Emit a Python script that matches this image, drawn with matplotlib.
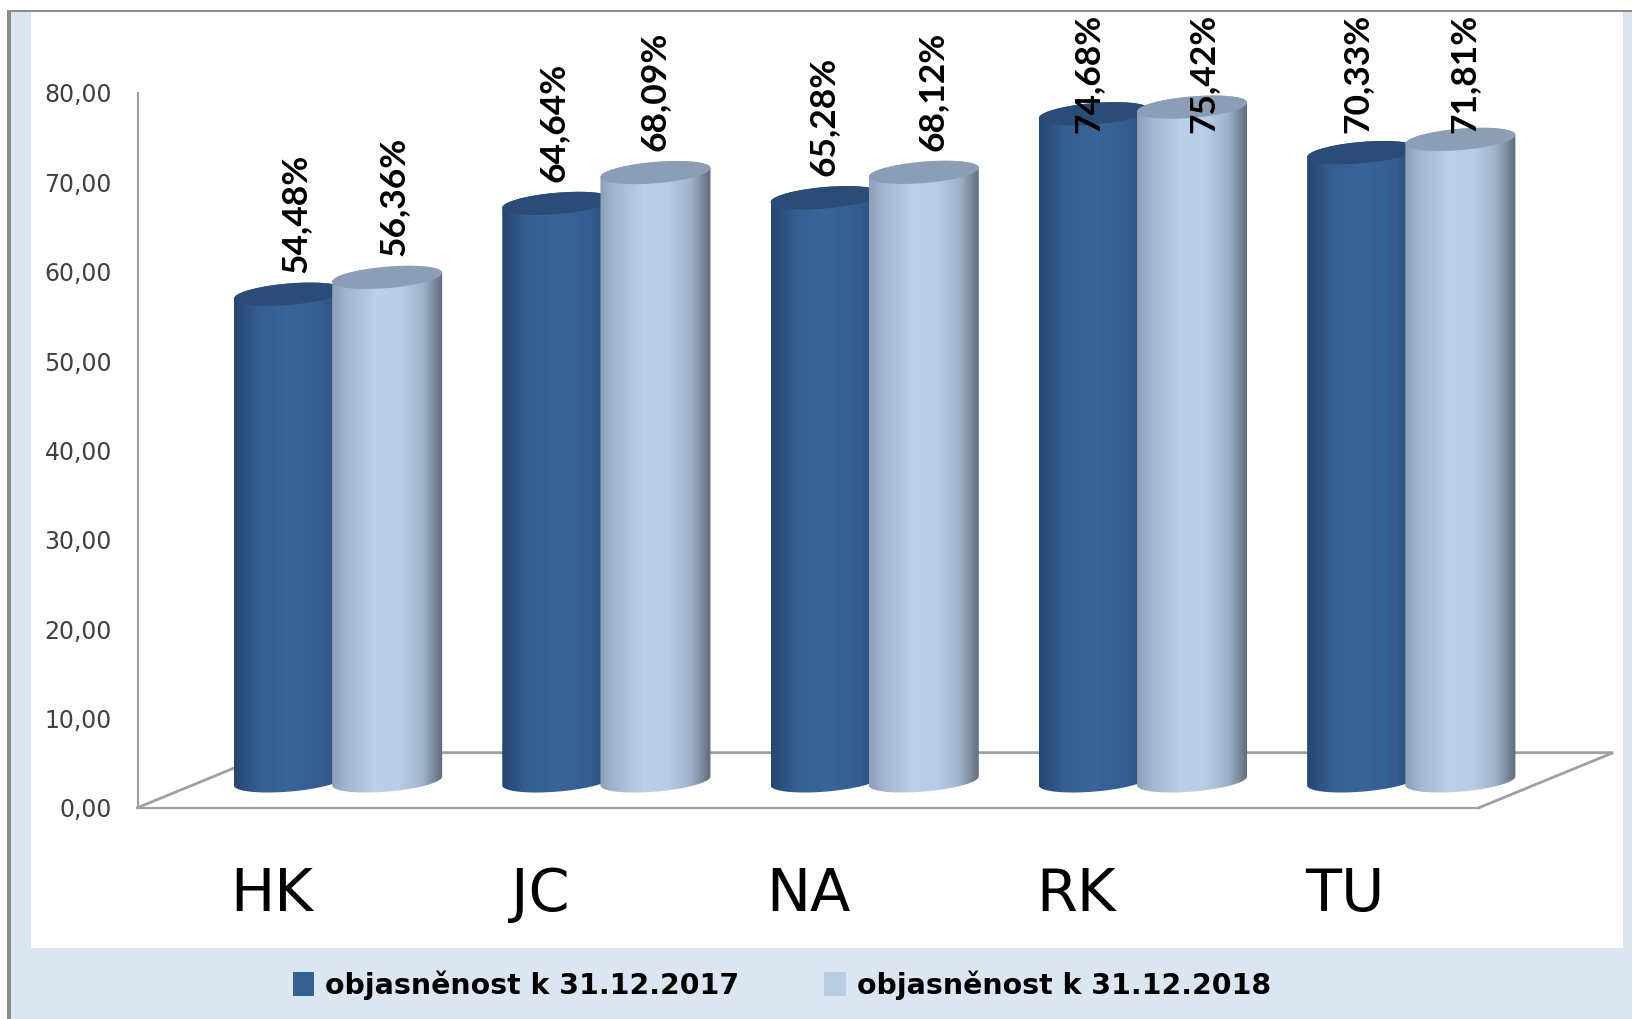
import matplotlib
matplotlib.use('Agg')
import matplotlib.pyplot as plt
from matplotlib.colors import LinearSegmentedColormap
from matplotlib.patches import Rectangle, PathPatch, Patch, Polygon
from matplotlib.path import Path
import numpy as np

categories = ['HK', 'JC', 'NA', 'RK', 'TU']
obj_2017 = [54.48, 64.64, 65.28, 74.68, 70.33]
obj_2018 = [56.36, 68.09, 68.12, 75.42, 71.81]
labels_2017 = ['54,48%', '64,64%', '65,28%', '74,68%', '70,33%']
labels_2018 = ['56,36%', '68,09%', '68,12%', '75,42%', '71,81%']
y_ticks = [0, 10, 20, 30, 40, 50, 60, 70, 80]
y_tick_labels = ['0,00', '10,00', '20,00', '30,00', '40,00', '50,00', '60,00', '70,00', '80,00']
legend_names = ['objasněnost k 31.12.2017', 'objasněnost k 31.12.2018']

W, H = 1633, 1019
BG = '#DCE6F2'
GRID = '#A0A0A0'

# style of the fake 3d cylinders
half_w = 0.205
pair_off = 0.183
depth_x = 0.2475
base = 3.0
ell_h = 1.2
ell_s = 0.5

cmap_dark = LinearSegmentedColormap.from_list('dark', [
    (0, '#274670'), (0.22, '#345D91'), (0.5, '#3A6599'), (0.8, '#345C90'), (1, '#2A4A76')])
cmap_light = LinearSegmentedColormap.from_list('light', [
    (0, '#8E9FB6'), (0.12, '#A2B4CE'), (0.4, '#BCD0EA'), (0.62, '#B8CCE6'), (0.82, '#A0B2CB'), (1, '#5E6A7A')])


def px_rect(x0, y0, x1, y1, color):
    return Rectangle((x0 / W, 1 - y1 / H), (x1 - x0) / W, (y1 - y0) / H,
                     transform=fig.transFigure, facecolor=color, edgecolor='none', zorder=-5)


def cylinder(ax, cx, value, cmap, cap_color, z):
    t = np.linspace(np.pi, 2 * np.pi, 60)
    xb = cx + half_w * np.cos(t)
    yb = base + ell_s * np.cos(t) + ell_h * np.sin(t)
    t2 = np.linspace(0, np.pi, 60)
    xt = cx + half_w * np.cos(t2)
    yt = base + value + ell_s * np.cos(t2) + ell_h * np.sin(t2)
    verts = np.column_stack([np.r_[xb, xt], np.r_[yb, yt]])
    body = PathPatch(Path(np.vstack([verts, verts[0]])), facecolor='none', edgecolor='none',
                     transform=ax.transData, zorder=z, clip_on=False)
    ax.add_patch(body)
    grad = np.linspace(0, 1, 256).reshape(1, -1)
    im = ax.imshow(grad, cmap=cmap, aspect='auto', zorder=z, interpolation='bilinear',
                   extent=(cx - half_w, cx + half_w, 0, 85))
    # the last bar sticks out of the axes because of the depth
    im.set_clip_box(fig.bbox)
    im.set_clip_path(body)
    tc = np.linspace(0, 2 * np.pi, 120)
    cap = np.column_stack([cx + half_w * np.cos(tc),
                           base + value + ell_s * np.cos(tc) + ell_h * np.sin(tc)])
    ax.add_patch(Polygon(cap, closed=True, facecolor=cap_color, edgecolor='none', zorder=z + 0.1,
                         clip_on=False))


fig = plt.figure(figsize=(W / 100, H / 100), dpi=100, facecolor='white')

# panel behind the chart
fig.add_artist(px_rect(9, 11, W, H, BG))
fig.add_artist(px_rect(31, 12, 1623, 948, 'white'))
fig.add_artist(px_rect(7.5, 10, 11, H, '#8C8C8C'))
fig.add_artist(px_rect(7.5, 9.5, W, 12, '#8C8C8C'))

ax = fig.add_axes([137.5 / W, 1 - 807.7 / H, (1479 - 137.5) / W, (807.7 - 93) / H])
ax.patch.set_alpha(0)

x = np.arange(len(categories))
for i in x:
    cx = i + depth_x
    cylinder(ax, cx - pair_off, obj_2017[i], cmap_dark, '#2C4C78', 3)
    cylinder(ax, cx + pair_off, obj_2018[i], cmap_light, '#8C9EB6', 4)

# floor of the 3d box
ax.plot([-0.5, 0, 5, 4.5], [0, 6.16, 6.16, 0], color=GRID, lw=2, clip_on=False, zorder=1,
        solid_joinstyle='miter')

# value labels, they stop at the top of the chart
nudge_2017 = [7, -4, -2, -5, -5]
nudge_2018 = [6, -1, 9, 11, 4]
for i in x:
    for val, lab, off, nudge in ((obj_2017[i], labels_2017[i], -pair_off, nudge_2017[i]),
                                 (obj_2018[i], labels_2018[i], pair_off, nudge_2018[i])):
        ax.text(i + depth_x + off + nudge / 268.3, min(val + base + 2.4, 75.5), lab, rotation=90,
                ha='center', va='bottom', fontsize=25.5, fontweight='bold', color='black',
                family='Lato', clip_on=False, zorder=6)

ax.set_xlim(-0.5, 4.5)
ax.set_ylim(0, 80)
ax.set_yticks(y_ticks)
ax.set_yticklabels(y_tick_labels, fontsize=17, color='#404040', family='DejaVu Sans')
ax.set_xticks(x)
ax.set_xticklabels(categories, fontsize=42.5, color='black', family='DejaVu Sans')
ax.tick_params(axis='y', length=0, pad=18.5)
ax.tick_params(axis='x', length=0, pad=42)
for s in ('top', 'right'):
    ax.spines[s].set_visible(False)
for s in ('left', 'bottom'):
    ax.spines[s].set_color(GRID)
    ax.spines[s].set_linewidth(1.5)

handles = [Patch(facecolor='#376092', edgecolor='none'), Patch(facecolor='#B9CDE5', edgecolor='none')]
fig.legend(handles, legend_names, loc='center', bbox_to_anchor=(782 / W, 1 - 985 / H), ncol=2,
           frameon=False, prop={'family': 'DejaVu Sans', 'weight': 'bold', 'size': 20.4},
           handlelength=0.75, handleheight=0.9, handletextpad=0.4, columnspacing=3.0,
           labelcolor='black')

fig.savefig('out.png', dpi=100)
